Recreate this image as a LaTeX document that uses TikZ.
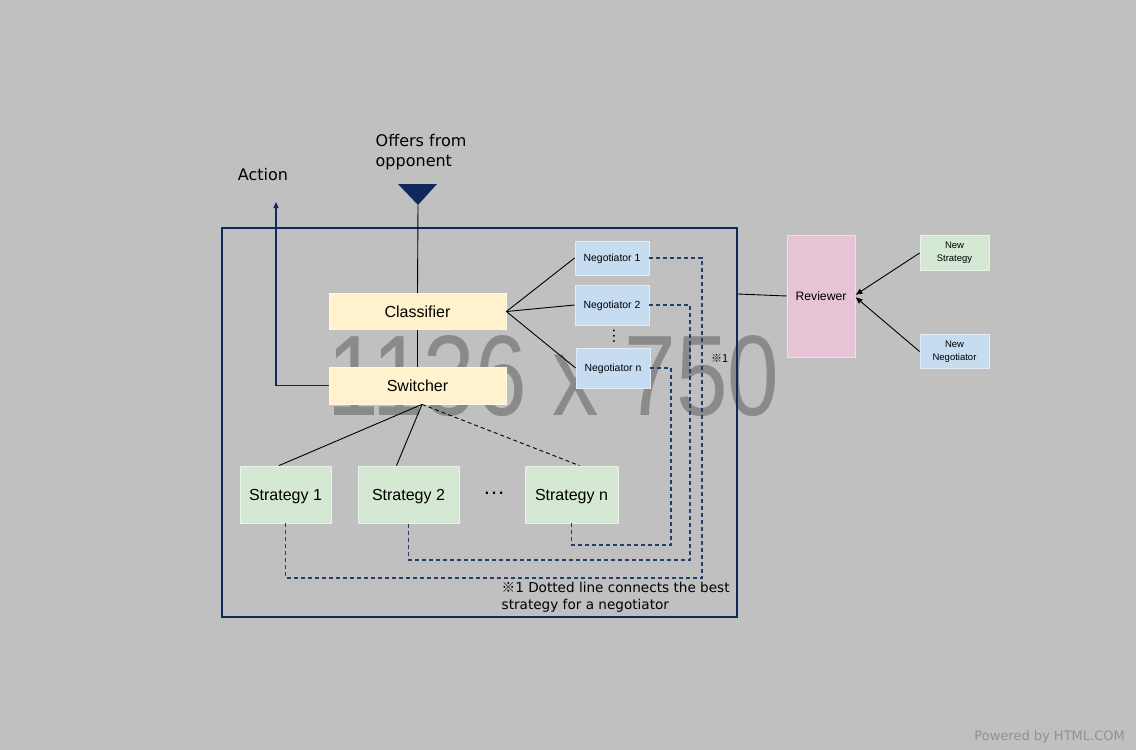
\documentclass[tikz,border=0pt]{standalone}
\usepackage{fontspec}
\setmainfont{Liberation Sans}
\newfontfamily\dejavu{DejaVu Sans}
\newfontfamily\cjkfont{Noto Sans CJK JP}
\usetikzlibrary{arrows.meta,calc}
\definecolor{bgc}{RGB}{192,192,192}
\definecolor{navy}{RGB}{16,40,90}
\definecolor{dnavy}{RGB}{38,62,110}
\definecolor{yfill}{RGB}{255,242,204}
\definecolor{gfill}{RGB}{213,232,212}
\definecolor{bfill}{RGB}{198,220,240}
\definecolor{pfill}{RGB}{230,196,213}
\definecolor{wmark}{RGB}{138,138,138}
\definecolor{pgray}{RGB}{145,145,145}
\tikzset{
  bx/.style={rectangle, fill=#1, draw=#1!55!white, line width=0.8pt, inner sep=0pt, align=center},
  frm/.style={rectangle, draw=navy, line width=1.6pt, inner sep=0pt},
  conn/.style={draw=black, line width=0.9pt},
  dconn/.style={draw=black, line width=0.9pt, dash pattern=on 4pt off 3pt},
  bestline/.style={draw=dnavy, line width=1.1pt, dash pattern=on 4pt off 3pt},
  navyline/.style={draw=navy, line width=1.1pt},
  lbl/.style={inner sep=0pt, text=black},
}
\begin{document}
\begin{tikzpicture}[x=1pt,y=-1pt]
\fill[bgc] (0,0) rectangle (1136,750);
\useasboundingbox (0,0) rectangle (1136,750);

% watermark
\node[lbl, text=wmark, font=\fontsize{114.5}{114.5}\selectfont] (wm) at (553.5,376) {\scalebox{0.81}[1]{1136 x 750}};
\node[lbl, text=pgray, font=\dejavu\fontsize{13}{13}\selectfont, anchor=east] (pw) at (1125,736.5) {Powered by HTML.COM};

% frame
\node[frm, minimum width=515pt, minimum height=389pt] (frame) at (479.5,422.5) {};

% input triangle
\fill[navy] (398,184) -- (437,184) -- (418,205) -- cycle;
\coordinate (tip) at (418,205);
\node[lbl, font=\dejavu\fontsize{16}{20}\selectfont, align=left, anchor=west] (offers) at (375.5,152) {Offers from\\opponent};
\node[lbl, font=\dejavu\fontsize{16}{20}\selectfont] (action) at (263,175) {Action};
\coordinate (act) at (276,202);

% main nodes
\node[bx=yfill, minimum width=177pt, minimum height=36pt, font=\fontsize{16}{19}\selectfont] (cls) at (417.5,311.5) {Classifier};
\node[bx=yfill, minimum width=177pt, minimum height=37pt, font=\fontsize{16}{19}\selectfont] (sw) at (417.5,385.5) {Switcher};

\node[bx=bfill, text depth=0pt, minimum width=74pt, minimum height=34pt, font=\fontsize{10.4}{12}\selectfont] (n1) at (612,258) {Negotiator 1};
\node[bx=bfill, text depth=0pt, minimum width=74pt, minimum height=40pt, font=\fontsize{10.4}{12}\selectfont] (n2) at (612,305) {Negotiator 2};
\node[bx=bfill, text depth=0pt, minimum width=74pt, minimum height=40pt, font=\fontsize{10.4}{12}\selectfont] (nn) at (613,368) {Negotiator n};
\node[lbl, rotate=90, font=\fontsize{16.5}{16.5}\selectfont] (vd) at (614,336.5) {…};
\node[lbl, font=\cjkfont\fontsize{11}{11}\selectfont, anchor=west] (ref1) at (711,358.5) {※1};

\node[bx=gfill, text depth=0pt, minimum width=91pt, minimum height=57pt, font=\fontsize{16}{19}\selectfont] (s1) at (285.5,494.5) {Strategy 1};
\node[bx=gfill, text depth=0pt, minimum width=101pt, minimum height=57pt, font=\fontsize{16}{19}\selectfont] (s2) at (408.5,494.5) {Strategy 2};
\node[bx=gfill, text depth=0pt, minimum width=93pt, minimum height=57pt, font=\fontsize{16}{19}\selectfont] (sn) at (571.5,494.5) {Strategy n};
\node[lbl, font=\fontsize{22.5}{22.5}\selectfont] (hd) at (494,493.3) {…};

\node[bx=pfill, minimum width=68pt, minimum height=122pt, font=\fontsize{12.2}{14}\selectfont] (rev) at (821,296) {Reviewer};
\node[bx=gfill, minimum width=69pt, minimum height=35pt, font=\fontsize{9.5}{13}\selectfont] (ns) at (954.5,253) {New\\Strategy};
\node[bx=bfill, minimum width=69pt, minimum height=34pt, font=\fontsize{9.5}{13}\selectfont] (nneg) at (954.5,351.5) {New\\Negotiator};

\node[lbl, font=\fontsize{13.6}{17}\selectfont, align=left, anchor=west] (note) at (501.5,597.5) {{\cjkfont ※}{\dejavu 1 Dotted line connects the best}\\{\dejavu strategy for a negotiator}};

% connectors
\draw[conn] (tip) -- (cls.north);
\draw[conn] (cls.south) -- (sw.north);
\draw[navyline, -{Triangle[length=6pt,width=5pt]}] (sw.west) -| (act);
\draw[conn] (cls.east) -- (n1.west);
\draw[conn] (cls.east) -- (n2.west);
\draw[conn] (cls.east) -- (nn.west);
\coordinate (swb) at ([xshift=4.5pt]sw.south);
\draw[conn] (swb) -- ([xshift=-6.5pt]s1.north);
\draw[conn] (swb) -- ([xshift=-12pt]s2.north);
\draw[dconn] (swb) -- ([xshift=8pt]sn.north);

\draw[bestline] (n1.east) -| (702,578) -| (s1.south);
\draw[bestline] (n2.east) -| (690,560) -| (s2.south);
\draw[bestline] (nn.east) -| (671,545) -| (sn.south);

\draw[conn] ([yshift=128.5pt]frame.east) -- (rev.west);
\draw[conn, -{Latex[length=7pt,width=6pt]}] (ns.west) -- ([yshift=1pt]rev.east);
\draw[conn, -{Latex[length=7pt,width=6pt]}] (nneg.west) -- ([yshift=-1pt]rev.east);
\end{tikzpicture}
\end{document}
